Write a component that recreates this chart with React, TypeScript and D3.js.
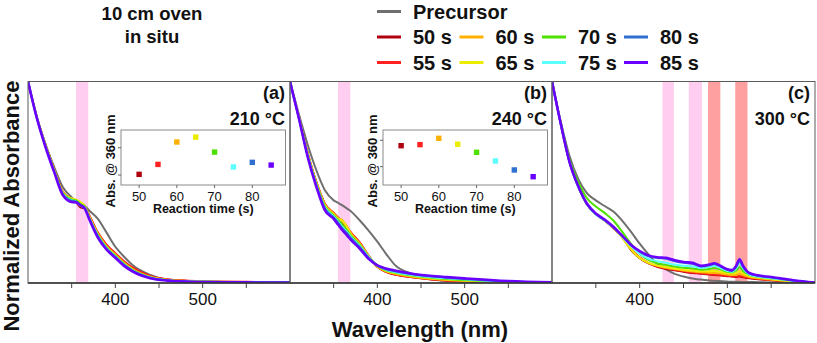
import React from 'react';
import * as d3 from 'd3';

// ---------- data ----------
const SERIES_NAMES = ['Precursor', '50 s', '55 s', '60 s', '65 s', '70 s', '75 s', '80 s', '85 s'];
const SERIES_COLORS = ['#6f6f6f', '#b00010', '#ff2020', '#ffb000', '#ecec00', '#4ee000', '#5cffff', '#2f6fd0', '#6a00ff'];

const WL_AB = [300, 310, 320, 330, 340, 350, 355, 360, 365, 370, 380, 390, 400, 410, 420, 440, 460, 480, 500, 550, 600];

// panel (a) 210 °C
const P_A = [1, .825, .69, .575, .475, .425, .405, .396, .383, .36, .318, .25, .18, .13, .088, .04, .014, .006, .004, .002, .001];
const S50_A = [1, .825, .686, .563, .45, .414, .403, .375, .37, .335, .248, .186, .144, .104, .073, .034, .017, .011, .008, .005, .003];
const S55_A = [1, .825, .686, .564, .452, .418, .408, .385, .376, .338, .25, .19, .148, .108, .076, .035, .018, .012, .009, .006, .003];
const S60_A = [1, .824, .685, .562, .45, .42, .412, .398, .38, .332, .244, .182, .141, .1, .068, .031, .016, .01, .007, .005, .003];
const S65_A = [1, .824, .684, .56, .448, .418, .414, .402, .382, .33, .241, .179, .138, .097, .066, .029, .015, .009, .007, .004, .002];
const S70_A = [1, .823, .682, .558, .445, .414, .41, .392, .378, .326, .238, .176, .135, .094, .064, .028, .014, .009, .006, .004, .002];
const S75_A = [1, .822, .68, .556, .442, .41, .405, .383, .372, .324, .235, .173, .132, .092, .062, .027, .013, .008, .006, .004, .002];
const S80_A = [1, .822, .68, .556, .44, .408, .405, .387, .372, .322, .232, .17, .13, .09, .06, .026, .013, .008, .006, .004, .002];
const S85_A = [1, .82, .675, .55, .435, .402, .4, .386, .37, .318, .225, .165, .125, .085, .057, .024, .012, .007, .005, .003, .002];

// panel (b) 240 °C
const P_B = [1, .84, .69, .562, .46, .41, .398, .385, .37, .355, .31, .26, .205, .145, .09, .045, .02, .01, .006, .003, .001];
const S50_B = [1, .826, .648, .503, .392, .347, .324, .303, .276, .248, .199, .135, .08, .055, .042, .028, .018, .012, .008, .004, .002];
const S55_B = [1, .826, .648, .503, .392, .348, .325, .305, .278, .25, .2, .136, .08, .056, .043, .029, .019, .013, .009, .004, .002];
const S60_B = [1, .826, .646, .5, .39, .345, .322, .312, .282, .245, .196, .134, .082, .058, .046, .031, .021, .015, .011, .004, .002];
const S65_B = [1, .825, .643, .498, .385, .34, .318, .308, .278, .24, .192, .132, .083, .06, .049, .034, .024, .017, .013, .005, .002];
const S70_B = [1, .824, .64, .494, .38, .335, .312, .29, .262, .234, .188, .13, .085, .063, .052, .037, .027, .02, .015, .006, .002];
const S75_B = [1, .823, .638, .49, .375, .33, .305, .278, .254, .228, .183, .129, .087, .066, .055, .04, .03, .023, .018, .007, .002];
const S80_B = [1, .822, .635, .487, .37, .325, .3, .272, .248, .222, .178, .126, .088, .068, .058, .043, .033, .026, .02, .008, .002];
const S85_B = [1, .82, .63, .48, .36, .318, .29, .262, .238, .213, .17, .12, .088, .072, .062, .046, .036, .029, .023, .01, .003];

// panel (c) 300 °C
const WL_C = [300, 310, 320, 330, 340, 350, 360, 370, 380, 390, 400, 410, 420, 430, 440, 450, 460, 465, 470, 480, 485, 490, 500, 505, 510, 514, 518, 525, 535, 550, 575, 600];
const P_C = [1, .80, .63, .515, .445, .41, .382, .355, .31, .255, .195, .142, .095, .068, .045, .032, .022, .019, .017, .012, .011, .01, .007, .006, .006, .006, .005, .005, .004, .003, .002, .001];
const S50_C = [1, .79, .6, .478, .39, .342, .31, .272, .228, .165, .123, .097, .08, .07, .063, .056, .05, .048, .046, .042, .04, .038, .034, .032, .03, .032, .029, .024, .019, .014, .007, .002];
const S55_C = [1, .79, .6, .478, .39, .342, .31, .273, .232, .17, .128, .1, .083, .073, .066, .058, .052, .05, .048, .044, .042, .04, .036, .034, .032, .035, .031, .026, .021, .015, .008, .002];
const S60_C = [1, .79, .6, .478, .39, .343, .311, .274, .228, .168, .125, .1, .085, .076, .069, .062, .057, .055, .053, .05, .05, .048, .042, .04, .04, .045, .039, .03, .024, .017, .008, .002];
const S65_C = [1, .79, .6, .478, .39, .343, .312, .275, .226, .168, .124, .1, .087, .079, .072, .066, .062, .06, .058, .058, .06, .057, .049, .047, .05, .058, .048, .034, .027, .019, .009, .002];
const S70_C = [1, .795, .612, .5, .42, .38, .348, .31, .255, .195, .145, .115, .098, .09, .082, .076, .072, .069, .066, .07, .074, .07, .056, .053, .062, .078, .06, .04, .031, .023, .011, .002];
const S75_C = [1, .788, .598, .476, .388, .34, .31, .275, .23, .183, .145, .12, .108, .1, .092, .086, .083, .079, .075, .08, .086, .079, .06, .056, .072, .098, .072, .042, .032, .024, .011, .002];
const S80_C = [1, .79, .6, .478, .39, .342, .312, .277, .233, .188, .155, .133, .124, .12, .108, .1, .096, .089, .082, .088, .094, .087, .065, .06, .079, .108, .079, .047, .036, .027, .012, .002];
const S85_C = [1, .79, .6, .48, .393, .345, .315, .279, .235, .19, .158, .137, .128, .125, .113, .104, .1, .092, .085, .092, .098, .09, .068, .064, .085, .118, .085, .05, .038, .03, .014, .002];

// highlighted wavelength bands [start, end] in nm
const BANDS_AB = [[355, 369]];
const BANDS_C_PINK = [[426, 439], [456, 471]];
const BANDS_C_RED = [[478, 492], [509, 523]];

// insets: Abs. @ 360 nm vs reaction time
const INSET_TIMES = [50, 55, 60, 65, 70, 75, 80, 85];
const INSET_A = [0.3805, 0.3878, 0.4042, 0.4078, 0.3968, 0.3859, 0.3893, 0.3873];
const INSET_B = [0.2959, 0.2967, 0.3015, 0.2970, 0.2909, 0.2843, 0.2775, 0.2724];
const INSET_A_DOMAIN = [0.3727, 0.4130];
const INSET_B_DOMAIN = [0.2661, 0.3078];
const INSET_A_TICKS = [0.38, 0.40];
const INSET_B_TICKS = [0.28, 0.30];
const INSET_X_DOMAIN = [45.2, 88.8];
const INSET_X_TICKS = [50, 60, 70, 80];

const X_DOMAIN = [300, 600];
const X_TICKS = [350, 400, 450, 500, 550];
const X_TICK_LABELS = [400, 500];

// ---------- layout ----------
const W = 817, H = 343;
const TOP = 81.5, BOTTOM = 283;
const FONT = '"Liberation Sans", Arial, Helvetica, sans-serif';

const PANELS = [
  { x0: 28, x1: 290, label: '(a)', temp: '210 °C', wl: WL_AB,
    series: [P_A, S50_A, S55_A, S60_A, S65_A, S70_A, S75_A, S80_A, S85_A],
    pink: BANDS_AB, red: [], inset: INSET_A, insetDomain: INSET_A_DOMAIN, insetTicks: INSET_A_TICKS },
  { x0: 290, x1: 552, label: '(b)', temp: '240 °C', wl: WL_AB,
    series: [P_B, S50_B, S55_B, S60_B, S65_B, S70_B, S75_B, S80_B, S85_B],
    pink: BANDS_AB, red: [], inset: INSET_B, insetDomain: INSET_B_DOMAIN, insetTicks: INSET_B_TICKS },
  { x0: 552, x1: 815, label: '(c)', temp: '300 °C', wl: WL_C,
    series: [P_C, S50_C, S55_C, S60_C, S65_C, S70_C, S75_C, S80_C, S85_C],
    pink: BANDS_C_PINK, red: BANDS_C_RED, inset: null, insetDomain: null, insetTicks: null },
];

const yScale = d3.scaleLinear().domain([0, 1]).range([BOTTOM, TOP]);

function Panel({ p, idx }: { p: any; idx: number }) {
  const x = d3.scaleLinear().domain(X_DOMAIN).range([p.x0, p.x1]);
  const clipId = `clip-${idx}`;
  const line = d3.line<number>()
    .x((_, i) => x(p.wl[i]))
    .y((d) => yScale(d))
    .curve(d3.curveMonotoneX);

  let inset = null;
  if (p.inset) {
    const ix0 = p.x0 + 93, ix1 = p.x1 - 4.5, iy0 = 130, iy1 = 185;
    const ix = d3.scaleLinear().domain(INSET_X_DOMAIN).range([ix0, ix1]);
    const iy = d3.scaleLinear().domain(p.insetDomain).range([iy1, iy0]);
    inset = (
      <g>
        <rect x={ix0} y={iy0} width={ix1 - ix0} height={iy1 - iy0} fill="white" stroke="#8a8a8a" strokeWidth={1} />
        {p.insetTicks.map((t: number) => (
          <line key={t} x1={ix0 - 3} x2={ix0} y1={iy(t)} y2={iy(t)} stroke="#666" strokeWidth={1} />
        ))}
        {INSET_X_TICKS.map((t) => (
          <g key={t}>
            <line x1={ix(t)} x2={ix(t)} y1={iy1} y2={iy1 + 3} stroke="#666" strokeWidth={1} />
            <text x={ix(t)} y={iy1 + 15.5} textAnchor="middle" fontSize={13} fontFamily={FONT} fill="#111">{t}</text>
          </g>
        ))}
        {INSET_TIMES.map((t, i) => (
          <rect key={t} x={ix(t) - 2.7} y={iy(p.inset[i]) - 2.7} width={5.4} height={5.4} fill={SERIES_COLORS[i + 1]} />
        ))}
        <text x={(ix0 + ix1) / 2} y={213} textAnchor="middle" fontSize={12.5} fontWeight="bold" fontFamily={FONT} fill="#111">Reaction time (s)</text>
        <text transform={`translate(${ix0 - 6},${161}) rotate(-90)`} textAnchor="middle" fontSize={13} fontWeight="bold" fontFamily={FONT} fill="#111">Abs. @ 360 nm</text>
      </g>
    );
  }

  return (
    <g>
      <defs>
        <clipPath id={clipId}>
          <rect x={p.x0} y={TOP} width={p.x1 - p.x0} height={BOTTOM - TOP} />
        </clipPath>
      </defs>
      {p.pink.map((b: number[], i: number) => (
        <rect key={'p' + i} x={x(b[0])} y={TOP} width={x(b[1]) - x(b[0])} height={BOTTOM - TOP} fill="#ffcdef" />
      ))}
      {p.red.map((b: number[], i: number) => (
        <rect key={'r' + i} x={x(b[0])} y={TOP} width={x(b[1]) - x(b[0])} height={BOTTOM - TOP} fill="#ffa0a0" />
      ))}
      <g clipPath={`url(#${clipId})`}>
        {p.series.map((s: number[], i: number) => (
          <path key={i} d={line(s) || ''} fill="none" stroke={SERIES_COLORS[i]}
            strokeWidth={i === 8 ? 2.6 : 2} strokeLinejoin="round" />
        ))}
      </g>
      <rect x={p.x0} y={TOP} width={p.x1 - p.x0} height={BOTTOM - TOP} fill="none" stroke="#5a5a5a" strokeWidth={1} />
      <line x1={p.x0} x2={p.x1} y1={BOTTOM} y2={BOTTOM} stroke="#333" strokeWidth={1.3} />
      {X_TICKS.map((t) => (
        <line key={t} x1={x(t)} x2={x(t)} y1={BOTTOM} y2={BOTTOM + 5} stroke="#444" strokeWidth={1} />
      ))}
      {X_TICK_LABELS.map((t) => (
        <text key={t} x={x(t)} y={305} textAnchor="middle" fontSize={17} fontFamily={FONT} fill="#111">{t}</text>
      ))}
      {inset}
      <text x={p.x1 - 5} y={99} textAnchor="end" fontSize={18} fontWeight="bold" fontFamily={FONT} fill="#111">{p.label}</text>
      <text x={p.x1 - 5} y={125} textAnchor="end" fontSize={18} fontWeight="bold" fontFamily={FONT} fill="#111">{p.temp}</text>
    </g>
  );
}

function Legend() {
  const items = [
    { i: 0, col: 0, row: 0 },
    { i: 1, col: 0, row: 1 }, { i: 2, col: 0, row: 2 },
    { i: 3, col: 1, row: 1 }, { i: 4, col: 1, row: 2 },
    { i: 5, col: 2, row: 1 }, { i: 6, col: 2, row: 2 },
    { i: 7, col: 3, row: 1 }, { i: 8, col: 3, row: 2 },
  ];
  const colX = [377, 459.5, 542, 624];
  const rowY = [18.5, 44, 69.5];
  return (
    <g>
      {items.map(({ i, col, row }) => (
        <g key={i}>
          <line x1={colX[col]} x2={colX[col] + 24} y1={rowY[row] - 7} y2={rowY[row] - 7} stroke={SERIES_COLORS[i]} strokeWidth={3} />
          <text x={colX[col] + 36} y={rowY[row]} fontSize={20} fontWeight="bold" fontFamily={FONT} fill="#111">{SERIES_NAMES[i]}</text>
        </g>
      ))}
    </g>
  );
}

export default function App() {
  return (
    <svg width={W} height={H} style={{ position: 'absolute', left: 0, top: 0, background: 'white' }}>
      <rect x={0} y={0} width={W} height={H} fill="white" />
      <text x={152} y={20} textAnchor="middle" fontSize={18.5} fontWeight="bold" fontFamily={FONT} fill="#111">10 cm oven</text>
      <text x={152} y={43} textAnchor="middle" fontSize={18.5} fontWeight="bold" fontFamily={FONT} fill="#111">in situ</text>
      <Legend />
      {PANELS.map((p, i) => <Panel key={i} p={p} idx={i} />)}
      <text x={420} y={337} textAnchor="middle" fontSize={22} fontWeight="bold" fontFamily={FONT} fill="#111">Wavelength (nm)</text>
      <text transform={`translate(19,206) rotate(-90)`} textAnchor="middle" fontSize={22} fontWeight="bold" fontFamily={FONT} fill="#111">Normalized Absorbance</text>
    </svg>
  );
}
